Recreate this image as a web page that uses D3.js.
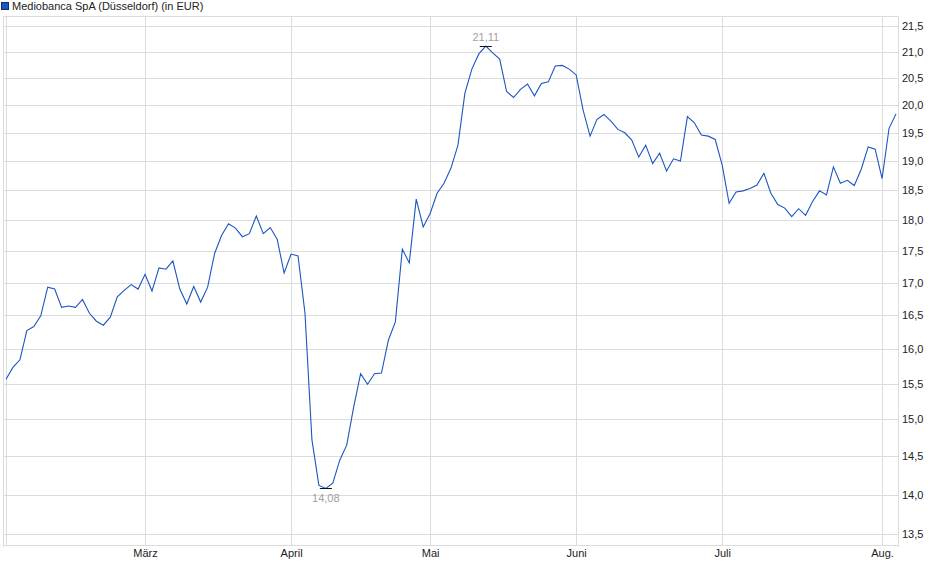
<!DOCTYPE html>
<html>
<head>
<meta charset="utf-8">
<script src="https://cdn.jsdelivr.net/npm/d3@7"></script>
<style>
  body { margin: 0; background: #fff; }
  svg { display: block; font-family: "Liberation Sans", Arial, sans-serif; }
</style>
</head>
<body>
<div id="chart"></div>
<script>
// closing prices, one per trading day (Feb 3 .. Aug 5)
var prices = [
  15.56, 15.73, 15.84, 16.27, 16.33, 16.49, 16.93, 16.90, 16.62, 16.64,
  16.62, 16.74, 16.53, 16.41, 16.35, 16.47, 16.78, 16.88, 16.97, 16.90,
  17.13, 16.87, 17.23, 17.21, 17.34, 16.90, 16.67, 16.94, 16.70, 16.93,
  17.46, 17.75, 17.94, 17.87, 17.73, 17.78, 18.07, 17.78, 17.88, 17.69,
  17.15, 17.45, 17.42, 16.53, 14.72, 14.12, 14.08, 14.15, 14.45, 14.65,
  15.17, 15.64, 15.49, 15.64, 15.65, 16.13, 16.40, 17.53, 17.31, 18.35,
  17.89, 18.11, 18.45, 18.62, 18.88, 19.28, 20.22, 20.67, 20.96, 21.11,
  20.98, 20.86, 20.25, 20.14, 20.29, 20.39, 20.17, 20.40, 20.43, 20.73,
  20.74, 20.67, 20.56, 19.91, 19.44, 19.74, 19.83, 19.71, 19.56, 19.50,
  19.37, 19.07, 19.28, 18.96, 19.14, 18.83, 19.04, 19.00, 19.79, 19.68,
  19.46, 19.44, 19.38, 18.93, 18.28, 18.47, 18.49, 18.53, 18.59, 18.79,
  18.45, 18.26, 18.20, 18.06, 18.19, 18.08, 18.31, 18.49, 18.42, 18.90,
  18.62, 18.67, 18.58, 18.86, 19.25, 19.21, 18.70, 19.58, 19.84
];

// first trading day of each month (index into prices)
var monthLabels = ["März", "April", "Mai", "Juni", "Juli", "Aug."];
var monthIdx = [20, 41, 61, 82, 103, 126];

var yTicks = [13.5, 14, 14.5, 15, 15.5, 16, 16.5, 17, 17.5, 18, 18.5, 19, 19.5, 20, 20.5, 21, 21.5];

var title = "Mediobanca SpA (Düsseldorf) (in EUR)";

var W = 940, H = 579;
var pLeft = 3, pRight = 898, pTop = 16, pBottom = 545;

var svg = d3.select("#chart").append("svg")
    .attr("width", W)
    .attr("height", H);

var x = d3.scaleLinear().domain([0, prices.length - 1]).range([6, 896]);
var y = d3.scaleLog().domain([13.37, 21.70]).range([pBottom, pTop]);

var fmt = function (v) { return d3.format(".1f")(v).replace(".", ","); };
var fmt2 = function (v) { return d3.format(".2f")(v).replace(".", ","); };

// horizontal grid
svg.selectAll("line.hgrid")
    .data(yTicks)
    .enter()
    .append("line")
    .attr("x1", pLeft)
    .attr("x2", pRight)
    .attr("y1", function (d) { return Math.round(y(d)) + 0.5; })
    .attr("y2", function (d) { return Math.round(y(d)) + 0.5; })
    .style("stroke", "#dcdcdc")
    .style("stroke-width", 1);

// vertical grid at month starts
svg.selectAll("line.vgrid")
    .data(monthIdx)
    .enter()
    .append("line")
    .attr("x1", function (d) { return Math.round(x(d)) + 0.5; })
    .attr("x2", function (d) { return Math.round(x(d)) + 0.5; })
    .attr("y1", pTop)
    .attr("y2", pBottom)
    .style("stroke", "#dcdcdc")
    .style("stroke-width", 1);

// frame
svg.append("line").attr("x1", pLeft + 0.5).attr("x2", pLeft + 0.5).attr("y1", pTop).attr("y2", pBottom + 2)
    .style("stroke", "#dcdcdc");
svg.append("line").attr("x1", 6.5).attr("x2", 6.5).attr("y1", pTop).attr("y2", pBottom)
    .style("stroke", "#dcdcdc");
svg.append("line").attr("x1", pRight + 0.5).attr("x2", pRight + 0.5).attr("y1", pTop).attr("y2", pBottom + 2)
    .style("stroke", "#dcdcdc");
svg.append("line").attr("x1", pLeft).attr("x2", pRight).attr("y1", pTop + 0.5).attr("y2", pTop + 0.5)
    .style("stroke", "#dcdcdc");
svg.append("line").attr("x1", pLeft).attr("x2", pRight).attr("y1", pBottom + 0.5).attr("y2", pBottom + 0.5)
    .style("stroke", "#dcdcdc");

// y axis labels (right side)
var yAxis = d3.axisRight(y)
    .tickValues(yTicks)
    .tickFormat(fmt)
    .tickSize(0)
    .tickPadding(4);

var gy = svg.append("g")
    .attr("transform", "translate(" + pRight + ",0)")
    .call(yAxis);
gy.select(".domain").remove();
gy.selectAll("text")
    .style("font-size", "11px")
    .style("fill", "#222");

// x axis labels
var xAxis = d3.axisBottom(x)
    .tickValues(monthIdx)
    .tickFormat(function (d, i) { return monthLabels[i]; })
    .tickSize(0)
    .tickPadding(4);

var gx = svg.append("g")
    .attr("transform", "translate(0," + pBottom + ")")
    .call(xAxis);
gx.select(".domain").remove();
gx.selectAll("text")
    .style("font-size", "11px")
    .style("fill", "#222");

// price line
var line = d3.line()
    .x(function (d, i) { return x(i); })
    .y(function (d) { return y(d); });

svg.append("path")
    .datum(prices)
    .attr("d", line)
    .style("fill", "none")
    .style("stroke", "#1c56c0")
    .style("stroke-width", 1.1);

// high / low markers
var hiIdx = d3.maxIndex(prices), loIdx = d3.minIndex(prices);

[{i: hiIdx, dy: -5}, {i: loIdx, dy: 14}].forEach(function (m) {
    var v = prices[m.i];
    svg.append("line")
        .attr("x1", x(m.i) - 6)
        .attr("x2", x(m.i) + 6)
        .attr("y1", Math.round(y(v)) + 0.5)
        .attr("y2", Math.round(y(v)) + 0.5)
        .style("stroke", "#111")
        .style("stroke-width", 1);
    svg.append("text")
        .attr("x", x(m.i))
        .attr("y", y(v) + m.dy)
        .attr("text-anchor", "middle")
        .style("font-size", "11px")
        .style("fill", "#a0a0a8")
        .text(fmt2(v));
});

// legend
svg.append("rect")
    .attr("x", 1.5)
    .attr("y", 2.5)
    .attr("width", 7)
    .attr("height", 7)
    .style("fill", "#1c56c0")
    .style("stroke", "#0d2f73");

svg.append("text")
    .attr("x", 12)
    .attr("y", 10)
    .style("font-size", "11px")
    .style("fill", "#222")
    .text(title);
</script>
</body>
</html>
